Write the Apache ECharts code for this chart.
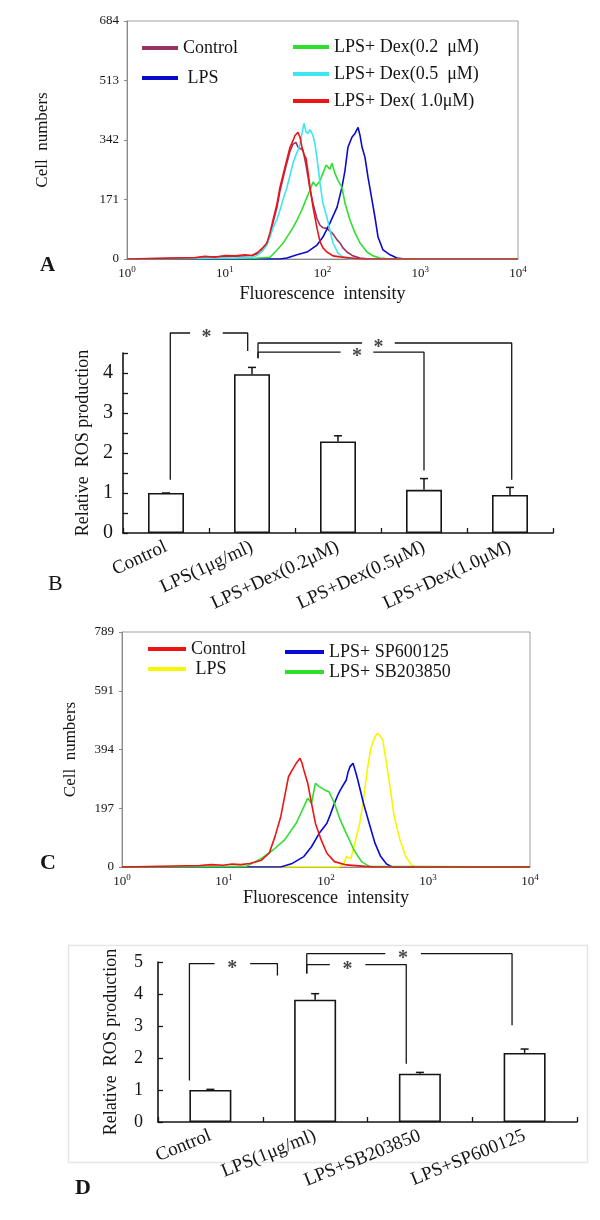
<!DOCTYPE html>
<html><head><meta charset="utf-8">
<script src="https://cdn.jsdelivr.net/npm/echarts/dist/echarts.min.js"></script>
<style>html,body{margin:0;padding:0;background:#fff}#c{width:600px;height:1220px}</style>
</head><body><div id="c"></div>
<script>
// ---------- Panel A: flow cytometry histograms (fluorescence intensity, cell count) ----------
const aControlX = [1,5.0,7.9,12.7,19.0,22.9,24.6,27.0,29.0,31.2,34.3,36.7,41.3,46.5,49.9,53.6,56.1,58.9,63.2,67.8,71.1,74.5,79.9,87.9,94.3,101,111,119,128,141,151,162,178,205,242,306,10000];
const aControlY = [0,3,6,8,10,18,28,44,70,105,150,195,255,310,330,335,322,318,312,270,235,200,160,115,97,90,88,80,72,55,46,32,20,9,3,0,0];
const aLpsX = [1,36.7,43.3,54.8,69.4,87.9,101,119,141,158,170,182,200,215,231,242,254,272,292,321,344,370,416,491,578,698,10000];
const aLpsY = [0,0,3,12,20,40,63,103,149,206,255,321,350,361,378,355,321,292,235,169,120,63,26,12,3,0,0];
const aDex02X = [1,20.4,29.0,34.3,39.4,43.3,49.9,54.8,58.9,63.2,69.4,74.5,79.9,85.8,89.9,94.3,101,109,114,119,125,134,144,158,170,191,215,242,285,329,387,491,10000];
const aDex02Y = [0,2,5,26,45,63,90,112,130,149,178,198,221,210,206,225,246,270,264,258,275,246,226,206,160,112,75,46,20,9,3,0,0];
const aDex05X = [1,12.7,19.0,21.4,24.6,27.0,29.0,31.2,34.3,36.7,39.4,43.3,46.5,49.9,53.6,56.1,58.9,61.7,64.7,67.8,71.1,74.5,79.9,83.8,87.9,94.3,101,111,119,128,144,162,191,10000];
const aDex05Y = [0,3,5,10,25,40,63,90,115,140,170,206,240,275,300,312,330,361,390,365,361,372,355,330,290,218,160,120,83,46,17,5,0,0];
const aDex10X = [1,5.0,6.3,7.9,10.1,12.7,16.1,19.0,21.4,22.9,24.6,27.0,29.0,31.2,34.3,36.7,41.3,46.5,49.9,52.3,56.1,58.9,61.7,64.7,67.8,71.1,74.5,79.9,87.9,94.3,101,111,128,151,178,242,10000];
const aDex10Y = [0,4,8,5,10,9,12,10,18,25,33,46,75,112,160,206,264,321,340,355,364,350,321,300,290,250,206,150,88,50,32,20,9,6,4,0,0];
const yTicksA = ['0','171','342','513','684'];

// ---------- Panel B: relative ROS production ----------
const catsB = ['Control','LPS(1μg/ml)','LPS+Dex(0.2μM)','LPS+Dex(0.5μM)','LPS+Dex(1.0μM)'];
const valsB = [1.0,3.97,2.29,1.08,0.95];
const errB  = [0,0.17,0.14,0.28,0.19];
// significance brackets (category-index units, value units)
const sigB = [
  {x1:0.05, y1:1.33, x2:0.95, y2:4.55, top:5.0,  star:0.47},
  {x1:1.07, y1:4.37, x2:3.0,  y2:1.56, top:4.52, star:2.22},
  {x1:1.07, y1:4.37, x2:4.02, y2:1.33, top:4.75, star:2.47}
];

// ---------- Panel C ----------
const cControlX = [1,5.8,7.5,9.8,12,14.5,18,23.3,27.8,31.6,36,39.3,42.9,46.7,51,55.6,58,60.6,66.2,72.1,78.7,89.7,102,121,158,243,300,10000];
const cControlY = [0,5,8,6,10,8,12,23,47,102,169,236,303,326,348,365,350,326,281,214,147,91,46,18,7,2,0,0];
const cLpsX = [1,133,150,158,175,188,214,233,254,277,302,321,340,360,392,428,467,531,606,689,752,10000];
const cLpsY = [0,0,10,35,28,68,147,225,326,404,437,449,440,426,348,258,169,91,35,7,0,0];
const cSpX = [1,36,46.7,60.6,72.1,85.8,102,110,121,130,138,158,165,172,184,195,205,233,265,302,344,392,447,10000];
const cSpY = [0,0,12,35,68,113,147,175,214,240,258,292,320,337,348,320,292,214,147,80,35,10,0,0];
const cSbX = [1,16.5,23.3,30.3,39.3,51,60.6,66.2,72.1,78.7,85.8,97.8,107,121,138,158,188,223,265,10000];
const cSbY = [0,2,29,57,91,147,202,231,214,281,270,258,253,214,158,113,57,18,2,0];
const yTicksC = ['0','197','394','591','789'];

// ---------- Panel D ----------
const catsD = ['Control','LPS(1μg/ml)','LPS+SB203850','LPS+SP600125'];
const valsD = [1.0,3.82,1.51,2.16];
const errD  = [0.02,0.19,0.04,0.12];
const sigD = [
  {x1:-0.2, y1:1.3,  x2:0.64, y2:4.58, top:4.95, star:0.21},
  {x1:0.92, y1:4.64, x2:1.87, y2:1.82, top:4.92, star:1.31},
  {x1:0.92, y1:4.64, x2:2.88, y2:3.02, top:5.26, star:1.84}
];

const FONT = 'Liberation Serif';
const INK = '#151515';
const zip = (xs, ys) => xs.map((x,i)=>[x, ys[i]]);

function histSeries(name, xs, ys, color, xi, yi){
  return {type:'line', name, xAxisIndex:xi, yAxisIndex:yi, data:zip(xs,ys), showSymbol:false, symbol:'none',
    lineStyle:{color, width:1.6}, itemStyle:{color}, silent:true, animation:false};
}
function barSeries(vals, xi, yi, w){
  return {type:'bar', xAxisIndex:xi, yAxisIndex:yi, data:vals, barWidth:w, silent:true,
    itemStyle:{color:'#fff', borderColor:INK, borderWidth:1.6}};
}
function errSeries(vals, errs, xi, yi){
  return {type:'custom', xAxisIndex:xi, yAxisIndex:yi, silent:true, z:5,
    data: vals.map((m,i)=>[i,m,errs[i]]),
    renderItem(params, api){
      const i=api.value(0), m=api.value(1), e=api.value(2);
      const p0=api.coord([i,m]), p1=api.coord([i,m+e]);
      const w=4;
      return {type:'group', children:[
        {type:'line', shape:{x1:p0[0],y1:p0[1],x2:p1[0],y2:p1[1]}, style:{stroke:INK,lineWidth:1.5}},
        {type:'line', shape:{x1:p1[0]-w,y1:p1[1],x2:p1[0]+w,y2:p1[1]}, style:{stroke:INK,lineWidth:1.5}}
      ]};
    }};
}
function sigSeries(sigs, xi, yi, gap){
  const out=[];
  sigs.forEach(s=>{
    const segs=[[[s.x1,s.y1],[s.x1,s.top],[s.star-gap,s.top]], [[s.star+gap,s.top],[s.x2,s.top],[s.x2,s.y2]]];
    segs.forEach(d=>out.push({type:'line', xAxisIndex:xi, yAxisIndex:yi, data:d, symbol:'none', clip:false, silent:true,
      lineStyle:{color:INK,width:1.3}}));
  });
  out.push({type:'scatter', xAxisIndex:xi, yAxisIndex:yi, clip:false, silent:true, symbolSize:1,
    itemStyle:{color:'rgba(0,0,0,0)'}, data:sigs.map(s=>[s.star,s.top]),
    label:{show:true, position:'inside', formatter:'*', fontFamily:FONT, fontSize:20, fontWeight:'bold', color:INK, offset:[0,5]}});
  return out;
}
function logAxis(grid, nameGap){
  return {gridIndex:grid, type:'log', logBase:10, min:1, max:10000,
    axisLine:{show:true, onZero:false, lineStyle:{color:'#8a8a8a', width:1}}, axisTick:{show:false}, splitLine:{show:false},
    axisLabel:{margin:6, formatter:v=>'{b|10}{s|'+Math.round(Math.log10(v))+'}',
      rich:{b:{fontSize:13, fontFamily:FONT, color:INK}, s:{fontSize:9, fontFamily:FONT, color:INK, padding:[0,0,8,0]}}},
    name:'Fluorescence  intensity', nameLocation:'middle', nameGap, nameTextStyle:{fontFamily:FONT, fontSize:18, color:INK}};
}
function countAxis(grid, max, ticks, nameGap){
  return {gridIndex:grid, type:'value', min:0, max, interval:max/4,
    axisLine:{show:true, onZero:false, lineStyle:{color:'#8a8a8a', width:1}}, axisTick:{show:true, length:3, lineStyle:{color:'#8a8a8a'}},
    splitLine:{show:false},
    axisLabel:{margin:8, fontSize:13, fontFamily:FONT, color:INK, formatter:(v,i)=>ticks[i]},
    name:'Cell  numbers', nameLocation:'middle', nameGap, nameTextStyle:{fontFamily:FONT, fontSize:17, color:INK}};
}
function catAxis(grid, cats, rot, fs){
  return {gridIndex:grid, type:'category', data:cats,
    axisLine:{show:true, onZero:false, lineStyle:{color:INK, width:1.6}},
    axisTick:{show:true, inside:true, length:5, lineStyle:{color:INK, width:1.3}},
    axisLabel:{interval:0, rotate:rot, margin:13, fontSize:fs, fontFamily:FONT, color:INK}};
}
function rosAxis(grid, max, interval, fs, nameGap, margin){
  return {gridIndex:grid, type:'value', min:0, max, interval,
    axisLine:{show:true, onZero:false, lineStyle:{color:INK, width:1.6}},
    axisTick:{show:true, inside:true, length:5, lineStyle:{color:INK, width:1.3}},
    splitLine:{show:false},
    axisLabel:{margin, fontSize:fs, fontFamily:FONT, color:INK, formatter:v=>Number.isInteger(v)?String(v):''},
    name:'Relative  ROS production', nameLocation:'middle', nameGap, nameTextStyle:{fontFamily:FONT, fontSize:18, color:INK}};
}
const legendBase = {orient:'vertical', icon:'rect', itemHeight:4, selectedMode:false,
  textStyle:{fontFamily:FONT, fontSize:18, color:INK}};

const option = {
  animation:false,
  textStyle:{fontFamily:FONT},
  grid:[
    {left:127, top:21, width:391, height:238, show:true, borderColor:'#a0a0a0', borderWidth:1},
    {left:123, top:353, width:430, height:180},
    {left:122, top:632, width:408, height:235, show:true, borderColor:'#a0a0a0', borderWidth:1},
    {left:158, top:962, width:419, height:160}
  ],
  xAxis:[
    logAxis(0, 26),
    catAxis(1, catsB, 25, 19),
    {gridIndex:1, type:'value', min:-0.5, max:4.5, show:false},
    logAxis(2, 22),
    catAxis(3, catsD, 22, 19),
    {gridIndex:3, type:'value', min:-0.5, max:3.5, show:false}
  ],
  yAxis:[
    countAxis(0, 684, yTicksA, 76),
    rosAxis(1, 4.5, 0.5, 20, 28, 10),
    countAxis(2, 789, yTicksC, 43),
    rosAxis(3, 5, 1, 18, 38, 15)
  ],
  legend:[
    Object.assign({}, legendBase, {data:['Control',' LPS'], left:137, top:34, itemWidth:36, itemGap:12}),
    Object.assign({}, legendBase, {data:['LPS+ Dex(0.2  μM)','LPS+ Dex(0.5  μM)','LPS+ Dex( 1.0μM)'], left:288, top:33, itemWidth:36, itemGap:9}),
    Object.assign({}, legendBase, {data:['Control ',' LPS '], left:143, top:635, itemWidth:38, itemGap:2}),
    Object.assign({}, legendBase, {data:['LPS+ SP600125','LPS+ SB203850'], left:280, top:638, itemWidth:39, itemGap:2})
  ],
  graphic:[
    {type:'rect', left:66, top:943, shape:{width:519, height:217}, style:{fill:'none', stroke:'#e6e6e6', lineWidth:1.5}, silent:true},
    {type:'text', left:40, top:255, style:{text:'A', font:'bold 21px "Liberation Serif"', fill:INK}},
    {type:'text', left:48, top:573, style:{text:'B', font:'22px "Liberation Serif"', fill:INK}},
    {type:'text', left:40, top:852, style:{text:'C', font:'bold 22px "Liberation Serif"', fill:INK}},
    {type:'text', left:75, top:1177, style:{text:'D', font:'bold 22px "Liberation Serif"', fill:INK}}
  ],
  series:[
    histSeries('Control', aControlX, aControlY, '#993366', 0, 0),
    histSeries(' LPS', aLpsX, aLpsY, '#0a0acd', 0, 0),
    histSeries('LPS+ Dex(0.2  μM)', aDex02X, aDex02Y, '#2ee02e', 0, 0),
    histSeries('LPS+ Dex(0.5  μM)', aDex05X, aDex05Y, '#3ee6f2', 0, 0),
    histSeries('LPS+ Dex( 1.0μM)', aDex10X, aDex10Y, '#ee1414', 0, 0),
    barSeries(valsB, 1, 1, 36),
    errSeries(valsB, errB, 1, 1),
    ...sigSeries(sigB, 2, 1, 0.19),
    histSeries(' LPS ', cLpsX, cLpsY, '#f6f600', 3, 2),
    histSeries('LPS+ SP600125', cSpX, cSpY, '#0a0ad8', 3, 2),
    histSeries('LPS+ SB203850', cSbX, cSbY, '#2ee02e', 3, 2),
    histSeries('Control ', cControlX, cControlY, '#ee1414', 3, 2),
    barSeries(valsD, 4, 3, 42),
    errSeries(valsD, errD, 4, 3),
    ...sigSeries(sigD, 5, 3, 0.17)
  ]
};
const chart = echarts.init(document.getElementById('c'), null, {renderer:'canvas'});
chart.setOption(option);
</script></body></html>
